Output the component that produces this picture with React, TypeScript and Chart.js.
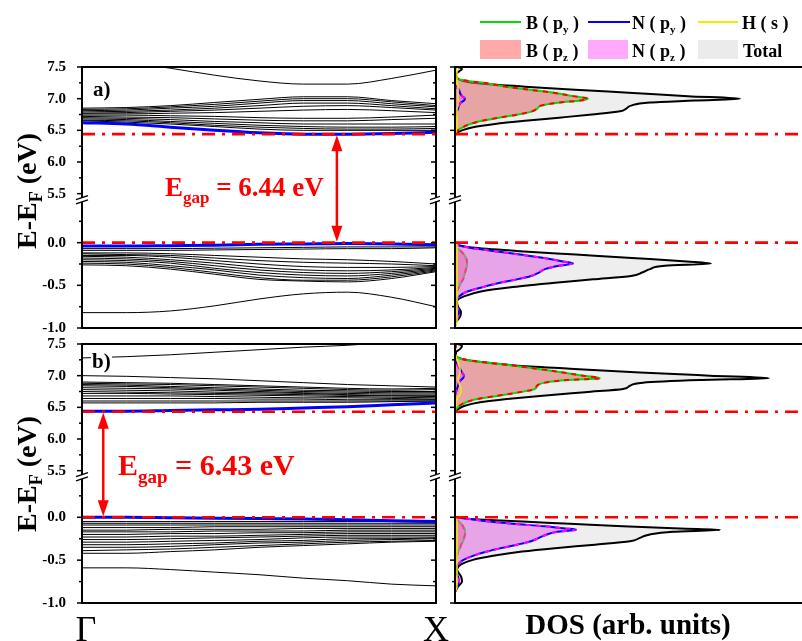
import React, { useEffect, useRef } from "react";
import { Chart, registerables } from "chart.js";
Chart.register(...registerables);

const FONT = "'Liberation Serif','Times New Roman',serif";

// ---------- axes ----------
const TICKS_TOP = [5.5, 6.0, 6.5, 7.0, 7.5];
const MINOR_TOP = [5.75, 6.25, 6.75, 7.25];
const TICKS_BOT = [-1.0, -0.5, 0.0];
const MINOR_BOT = [-0.75, -0.25, 0.25];
const K_PATH = [0, 0.125, 0.25, 0.375, 0.5, 0.625, 0.75, 0.875, 1];
const GAP_A = 6.44;
const GAP_B = 6.43;
const DOS_MAX = 347;

// ---------- panel a) bands ----------
const A_CB_BLACK = [
  [7.65, 7.58, 7.48, 7.37, 7.28, 7.23, 7.23, 7.32, 7.45],
  [6.85, 6.86, 6.89, 6.94, 6.99, 7.03, 7.03, 6.97, 6.92],
  [6.83, 6.84, 6.87, 6.91, 6.96, 7.0, 7.0, 6.95, 6.89],
  [6.81, 6.82, 6.85, 6.88, 6.93, 6.97, 6.97, 6.92, 6.87],
  [6.79, 6.8, 6.82, 6.85, 6.89, 6.93, 6.93, 6.89, 6.84],
  [6.77, 6.78, 6.8, 6.82, 6.85, 6.88, 6.89, 6.86, 6.82],
  [6.76, 6.76, 6.77, 6.78, 6.8, 6.82, 6.83, 6.81, 6.78],
  [6.74, 6.74, 6.73, 6.72, 6.7, 6.69, 6.69, 6.71, 6.74],
  [6.72, 6.71, 6.7, 6.68, 6.66, 6.65, 6.65, 6.67, 6.69],
  [6.7, 6.69, 6.67, 6.64, 6.62, 6.6, 6.6, 6.6, 6.6],
  [6.68, 6.67, 6.64, 6.61, 6.58, 6.56, 6.55, 6.55, 6.56],
  [6.66, 6.65, 6.62, 6.58, 6.55, 6.53, 6.52, 6.52, 6.53],
  [6.65, 6.63, 6.6, 6.56, 6.52, 6.5, 6.5, 6.5, 6.5],
];
const A_CB_BLUE = [6.62, 6.6, 6.55, 6.5, 6.46, 6.44, 6.44, 6.45, 6.47];
const A_VB_BLACK = [
  [-0.07, -0.07, -0.07, -0.065, -0.06, -0.055, -0.05, -0.05, -0.05],
  [-0.09, -0.09, -0.09, -0.085, -0.08, -0.075, -0.07, -0.07, -0.06],
  [-0.12, -0.12, -0.13, -0.15, -0.17, -0.19, -0.2, -0.22, -0.25],
  [-0.13, -0.14, -0.15, -0.18, -0.21, -0.23, -0.24, -0.25, -0.27],
  [-0.15, -0.15, -0.17, -0.21, -0.25, -0.28, -0.29, -0.29, -0.28],
  [-0.16, -0.17, -0.2, -0.24, -0.29, -0.32, -0.33, -0.32, -0.29],
  [-0.18, -0.19, -0.22, -0.27, -0.32, -0.35, -0.36, -0.34, -0.3],
  [-0.2, -0.21, -0.24, -0.3, -0.35, -0.38, -0.39, -0.36, -0.31],
  [-0.22, -0.23, -0.27, -0.32, -0.38, -0.41, -0.42, -0.38, -0.32],
  [-0.24, -0.25, -0.29, -0.35, -0.41, -0.44, -0.44, -0.4, -0.33],
  [-0.26, -0.27, -0.31, -0.37, -0.43, -0.45, -0.46, -0.42, -0.34],
  [-0.82, -0.82, -0.8, -0.74, -0.66, -0.6, -0.58, -0.64, -0.75],
];
const A_VB_BLUE = [-0.04, -0.04, -0.035, -0.03, -0.02, -0.015, -0.01, -0.015, -0.025];

// ---------- panel b) bands ----------
const B_CB_BLACK = [
  [7.28, 7.3, 7.33, 7.37, 7.41, 7.45, 7.48, 7.53, 7.58],
  [7.0, 6.99, 6.97, 6.95, 6.92, 6.89, 6.86, 6.84, 6.82],
  [6.9, 6.89, 6.88, 6.86, 6.84, 6.82, 6.8, 6.79, 6.8],
  [6.88, 6.87, 6.86, 6.84, 6.82, 6.8, 6.78, 6.77, 6.78],
  [6.86, 6.85, 6.83, 6.81, 6.79, 6.77, 6.76, 6.75, 6.75],
  [6.84, 6.83, 6.81, 6.79, 6.77, 6.75, 6.74, 6.73, 6.73],
  [6.81, 6.8, 6.79, 6.77, 6.75, 6.73, 6.72, 6.71, 6.71],
  [6.78, 6.77, 6.76, 6.74, 6.73, 6.72, 6.7, 6.69, 6.69],
  [6.75, 6.74, 6.73, 6.72, 6.71, 6.7, 6.69, 6.68, 6.67],
  [6.72, 6.72, 6.71, 6.7, 6.69, 6.68, 6.67, 6.66, 6.65],
  [6.68, 6.68, 6.68, 6.67, 6.66, 6.65, 6.65, 6.64, 6.63],
  [6.64, 6.64, 6.64, 6.64, 6.63, 6.63, 6.62, 6.62, 6.62],
  [6.6, 6.6, 6.6, 6.6, 6.6, 6.6, 6.6, 6.6, 6.6],
  [6.57, 6.57, 6.57, 6.57, 6.58, 6.58, 6.58, 6.59, 6.6],
];
const B_CB_BLUE = [6.44, 6.44, 6.45, 6.46, 6.47, 6.49, 6.51, 6.54, 6.57];
const B_VB_BLACK = [
  [-0.05, -0.05, -0.05, -0.05, -0.05, -0.05, -0.05, -0.05, -0.06],
  [-0.07, -0.07, -0.07, -0.07, -0.07, -0.07, -0.07, -0.07, -0.07],
  [-0.09, -0.09, -0.09, -0.09, -0.09, -0.09, -0.09, -0.09, -0.09],
  [-0.12, -0.12, -0.12, -0.11, -0.11, -0.11, -0.11, -0.11, -0.11],
  [-0.15, -0.15, -0.14, -0.14, -0.14, -0.13, -0.13, -0.13, -0.13],
  [-0.17, -0.17, -0.17, -0.16, -0.16, -0.16, -0.15, -0.15, -0.15],
  [-0.2, -0.2, -0.19, -0.19, -0.18, -0.18, -0.17, -0.17, -0.17],
  [-0.23, -0.23, -0.22, -0.22, -0.21, -0.2, -0.19, -0.19, -0.19],
  [-0.26, -0.26, -0.25, -0.24, -0.23, -0.22, -0.21, -0.21, -0.21],
  [-0.29, -0.29, -0.28, -0.27, -0.26, -0.24, -0.23, -0.23, -0.23],
  [-0.32, -0.32, -0.31, -0.3, -0.28, -0.27, -0.25, -0.25, -0.24],
  [-0.35, -0.35, -0.34, -0.32, -0.3, -0.29, -0.27, -0.26, -0.25],
  [-0.39, -0.38, -0.37, -0.35, -0.33, -0.31, -0.29, -0.28, -0.27],
  [-0.42, -0.42, -0.4, -0.38, -0.35, -0.33, -0.31, -0.29, -0.28],
  [-0.59, -0.59, -0.61, -0.64, -0.67, -0.71, -0.74, -0.78, -0.8],
];
const B_VB_BLUE = [0.0, 0.0, -0.005, -0.01, -0.015, -0.02, -0.03, -0.04, -0.05];

// ---------- panel a) DOS ----------
const A_DOS_E_TOP = [7.5, 7.47, 7.43, 7.38, 7.33, 7.28, 7.24, 7.19, 7.14, 7.09, 7.04, 7.0, 6.97, 6.94, 6.89, 6.84, 6.8, 6.75, 6.7, 6.65, 6.6, 6.55, 6.5, 6.46, 6.42];
const A_TOTAL_TOP = [3, 7, 4, 1, 2, 8, 25, 70, 120, 178, 233, 285, 240, 195, 176, 171, 165, 137, 104, 70, 40, 18, 7, 2, 0];
const A_BPZ_TOP = [1, 1, 0, 0, 0, 13, 33, 50, 75, 100, 118, 133, 125, 105, 86, 82, 77, 63, 44, 27, 15, 8, 3, 1, 0];
const A_NPZ_TOP = [0, 0, 0, 0, 0, 0, 0, 1, 4, 5, 7, 10, 9, 6, 4, 3, 2, 1, 0, 0, 0, 0, 0, 0, 0];
const A_HS_TOP = [0, 1, 2, 2, 2, 2, 2, 3, 3, 3, 3, 3, 3, 3, 3, 2, 2, 2, 2, 2, 2, 2, 1, 1, 0];
const A_DOS_E_BOT = [0.0, -0.03, -0.06, -0.1, -0.14, -0.18, -0.22, -0.245, -0.27, -0.31, -0.35, -0.39, -0.43, -0.47, -0.52, -0.57, -0.63, -0.69, -0.75, -0.81, -0.87, -0.93, -0.98];
const A_TOTAL_BOT = [0, 3, 20, 65, 121, 177, 232, 256, 210, 195, 187, 176, 138, 100, 58, 27, 9, 2, 3, 6, 5, 1, 0];
const A_NPZ_BOT = [0, 4, 15, 40, 65, 89, 108, 118, 104, 90, 84, 76, 62, 45, 28, 13, 4, 1, 2, 4, 3, 1, 0];
const A_BPZ_BOT = [0, 0, 2, 6, 9, 11, 12, 12, 12, 11, 10, 9, 8, 6, 4, 2, 1, 0, 0, 0, 0, 0, 0];
const A_HS_BOT = [0, 2, 2, 2, 2, 2, 2, 2, 2, 2, 2, 2, 2, 2, 2, 2, 2, 2, 2, 2, 2, 2, 0];

// ---------- panel b) DOS ----------
const B_DOS_E_TOP = [7.5, 7.47, 7.42, 7.37, 7.32, 7.26, 7.21, 7.16, 7.11, 7.05, 7.0, 6.96, 6.93, 6.89, 6.84, 6.79, 6.74, 6.68, 6.63, 6.58, 6.52, 6.47, 6.42];
const B_TOTAL_TOP = [3, 7, 5, 1, 1, 8, 28, 60, 115, 185, 255, 314, 245, 188, 175, 168, 130, 85, 52, 25, 9, 3, 0];
const B_BPZ_TOP = [1, 1, 0, 0, 0, 8, 30, 58, 82, 108, 128, 145, 112, 90, 82, 80, 65, 42, 22, 11, 4, 1, 0];
const B_NPZ_TOP = [0, 0, 0, 0, 0, 0, 1, 3, 5, 7, 9, 8, 6, 4, 3, 2, 1, 0, 0, 0, 0, 0, 0];
const B_HS_TOP = [0, 0, 0, 0, 1, 2, 3, 4, 5, 5, 4, 3, 3, 4, 5, 6, 6, 4, 2, 1, 1, 0, 0];
const B_DOS_E_BOT = [0.0, -0.02, -0.05, -0.075, -0.105, -0.13, -0.145, -0.17, -0.2, -0.24, -0.28, -0.32, -0.36, -0.4, -0.45, -0.5, -0.55, -0.61, -0.69, -0.75, -0.81, -0.87];
const B_TOTAL_BOT = [0, 15, 68, 115, 168, 225, 265, 218, 195, 185, 175, 140, 100, 67, 38, 17, 6, 2, 6, 7, 3, 0];
const B_NPZ_BOT = [1, 15, 35, 58, 90, 110, 121, 102, 92, 84, 76, 62, 46, 32, 18, 8, 3, 0, 3, 4, 2, 0];
const B_BPZ_BOT = [0, 1, 4, 6, 8, 9, 10, 10, 10, 9, 8, 6, 5, 3, 2, 1, 0, 0, 0, 0, 0, 0];
const B_HS_BOT = [0, 2, 2, 2, 2, 2, 2, 2, 2, 2, 2, 2, 2, 2, 2, 2, 2, 2, 2, 2, 2, 0];

// ---------- colours ----------
const C_BPY = "#00dd00";
const C_NPY = "#0000ff";
const C_HS = "#eeee00";
const C_RED = "#ff0000";
const FILL_TOTAL = "#eeeeee";
const FILL_BPZ = "rgba(226,110,110,0.58)";
const FILL_NPZ = "rgba(226,110,226,0.58)";

const decorPlugin = {
  id: "decor",
  afterDatasetsDraw(chart: any, _a: any, o: any) {
    const { ctx, chartArea: ca, scales } = chart;
    const yT = scales.yTop, yB = scales.yBot, xs = scales.x;
    const L = ca.left, R = ca.right, T = ca.top, B = ca.bottom;
    const brk = yT.bottom;
    ctx.save();
    const seg = (x1: number, y1: number, x2: number, y2: number, w: number) => {
      ctx.lineWidth = w;
      ctx.beginPath();
      ctx.moveTo(x1, y1);
      ctx.lineTo(x2, y2);
      ctx.stroke();
    };
    ctx.strokeStyle = "#000";
    seg(L - 1, T, R + 1, T, 2);
    seg(L - 1, B, R + 1, B, 2);
    const vert = (xx: number) => {
      seg(xx, T, xx, brk - 2.3, 2);
      seg(xx, brk + 1.8, xx, B, 2);
      seg(xx - 6, brk - 0.3, xx + 6, brk - 4.3, 1.4);
      seg(xx - 6, brk + 3.8, xx + 6, brk - 0.2, 1.4);
    };
    vert(L);
    if (o.right) vert(R);
    const ticks = (sc: any, vals: number[], len: number) => {
      vals.forEach((v) => {
        const y = sc.getPixelForValue(v);
        seg(L - len, y, L, y, 1.5);
        if (o.right) seg(R - len, y, R, y, 1.5);
      });
    };
    ticks(yT, TICKS_TOP, 5);
    ticks(yT, MINOR_TOP, 3);
    ticks(yB, TICKS_BOT, 5);
    ticks(yB, MINOR_BOT, 3);
    if (o.arrow) {
      const ax = xs.getPixelForValue(o.arrow.k);
      const y1 = yT.getPixelForValue(o.arrow.from);
      const y2 = yB.getPixelForValue(o.arrow.to);
      ctx.strokeStyle = C_RED;
      ctx.fillStyle = C_RED;
      seg(ax, y1 + 12, ax, y2 - 12, 2.5);
      ctx.beginPath();
      ctx.moveTo(ax, y1 + 1);
      ctx.lineTo(ax - 5.5, y1 + 17);
      ctx.lineTo(ax + 5.5, y1 + 17);
      ctx.closePath();
      ctx.fill();
      ctx.beginPath();
      ctx.moveTo(ax, y2 - 1);
      ctx.lineTo(ax - 5.5, y2 - 17);
      ctx.lineTo(ax + 5.5, y2 - 17);
      ctx.closePath();
      ctx.fill();
    }
    ctx.restore();
  },
};

function yScales(botMax: number, wTop: number, wBot: number, labels: boolean, width: number) {
  const common = (ticks: number[]) => ({
    type: "linear",
    position: "left",
    stack: "e",
    grid: { display: false },
    border: { display: false },
    ticks: {
      display: labels,
      autoSkip: false,
      color: "#000",
      padding: 8,
      font: { family: FONT, size: 15, weight: "bold" },
      callback: (v: any) => Number(v).toFixed(1),
    },
    afterBuildTicks: (s: any) => {
      s.ticks = ticks.map((v) => ({ value: v }));
    },
    afterFit: (s: any) => {
      s.width = width;
      s.paddingTop = 0;
      s.paddingBottom = 0;
    },
  });
  // left-side stacked boxes are laid out in reverse order: bottom segment first
  return {
    yBot: { ...common(TICKS_BOT), min: -1.0, max: botMax, stackWeight: wBot },
    yTop: { ...common(TICKS_TOP), min: 5.4, max: 7.5, stackWeight: wTop },
  };
}

function finish(datasets: any[]) {
  datasets.forEach((d, i) => {
    d.order = -i;
    d.pointRadius = 0;
    if (d.fill === undefined) d.fill = false;
  });
  return datasets;
}

function bandConfig(cbBlack: number[][], cbBlue: number[], vbBlack: number[][], vbBlue: number[], gap: number, arrowK: number, botMax: number, wTop: number, wBot: number, padB: number) {
  const pts = (arr: number[]) => K_PATH.map((k, i) => ({ x: k, y: arr[i] }));
  const ds: any[] = [];
  const curve = { cubicInterpolationMode: "monotone" };
  cbBlack.forEach((b) => ds.push({ data: pts(b), yAxisID: "yTop", borderColor: "#000", borderWidth: 1, ...curve }));
  vbBlack.forEach((b) => ds.push({ data: pts(b), yAxisID: "yBot", borderColor: "#000", borderWidth: 1, ...curve }));
  ds.push({ data: pts(cbBlue), yAxisID: "yTop", borderColor: C_NPY, borderWidth: 3, ...curve });
  ds.push({ data: pts(vbBlue), yAxisID: "yBot", borderColor: C_NPY, borderWidth: 3, ...curve });
  const ref = { borderColor: C_RED, borderWidth: 2.6, borderDash: [13, 7, 3, 7], tension: 0 };
  ds.push({ data: [{ x: 0, y: gap }, { x: 1, y: gap }], yAxisID: "yTop", ...ref });
  ds.push({ data: [{ x: 0, y: 0 }, { x: 1, y: 0 }], yAxisID: "yBot", ...ref });
  return {
    type: "line",
    data: { datasets: finish(ds) },
    options: {
      animation: false,
      responsive: false,
      events: [],
      layout: { padding: { top: 12, bottom: padB, left: 0, right: 4 } },
      plugins: {
        legend: { display: false },
        tooltip: { enabled: false },
        decor: { right: true, arrow: { k: arrowK, from: gap, to: 0 } },
      },
      scales: {
        x: { type: "linear", min: 0, max: 1, display: false },
        ...yScales(botMax, wTop, wBot, true, 82),
      },
    },
    plugins: [decorPlugin],
  };
}

function dosConfig(eTop: number[], totTop: number[], bTop: number[], nTop: number[], hTop: number[], eBot: number[], totBot: number[], bBot: number[], nBot: number[], hBot: number[], gap: number, botMax: number, wTop: number, wBot: number, padB: number) {
  const pts = (E: number[], v: number[]) => E.map((e, i) => ({ x: v[i], y: e }));
  const curve = { cubicInterpolationMode: "monotone" };
  const ds: any[] = [];
  ds.push({ data: pts(eTop, totTop), yAxisID: "yTop", fill: "origin", backgroundColor: FILL_TOTAL, borderColor: "#000", borderWidth: 2, ...curve });
  ds.push({ data: pts(eBot, totBot), yAxisID: "yBot", fill: "origin", backgroundColor: FILL_TOTAL, borderColor: "#000", borderWidth: 2, ...curve });
  const parts = (E: number[], b: number[], n: number[], h: number[], ax: string) => {
    ds.push({ data: pts(E, b), yAxisID: ax, fill: "origin", backgroundColor: FILL_BPZ, borderColor: C_BPY, borderWidth: 2, ...curve });
    ds.push({ data: pts(E, b), yAxisID: ax, borderColor: C_RED, borderWidth: 2, borderDash: [5, 5], ...curve });
    ds.push({ data: pts(E, n), yAxisID: ax, fill: "origin", backgroundColor: FILL_NPZ, borderColor: C_NPY, borderWidth: 2, ...curve });
    ds.push({ data: pts(E, n), yAxisID: ax, borderColor: "#ff00ff", borderWidth: 2, borderDash: [5, 5], ...curve });
    ds.push({ data: pts(E, h), yAxisID: ax, borderColor: C_HS, borderWidth: 1.5, ...curve });
  };
  parts(eTop, bTop, nTop, hTop, "yTop");
  parts(eBot, bBot, nBot, hBot, "yBot");
  const ref = { borderColor: C_RED, borderWidth: 2.6, borderDash: [13, 7, 3, 7], tension: 0 };
  ds.push({ data: [{ x: 0, y: gap }, { x: DOS_MAX, y: gap }], yAxisID: "yTop", ...ref });
  ds.push({ data: [{ x: 0, y: 0 }, { x: DOS_MAX, y: 0 }], yAxisID: "yBot", ...ref });
  return {
    type: "line",
    data: { datasets: finish(ds) },
    options: {
      animation: false,
      responsive: false,
      events: [],
      indexAxis: "y",
      layout: { padding: { top: 12, bottom: padB, left: 0, right: 0 } },
      plugins: {
        legend: { display: false },
        tooltip: { enabled: false },
        decor: { right: false, arrow: null },
      },
      scales: {
        x: { type: "linear", min: 0, max: DOS_MAX, display: false },
        ...yScales(botMax, wTop, wBot, false, 15),
      },
    },
    plugins: [decorPlugin],
  };
}

function ChartBox({ left, top, width, height, make }: any) {
  const ref = useRef<HTMLCanvasElement>(null);
  useEffect(() => {
    const chart = new Chart(ref.current as HTMLCanvasElement, make());
    return () => chart.destroy();
  }, []);
  return (
    <canvas
      ref={ref}
      width={width}
      height={height}
      style={{ position: "absolute", left, top, width, height }}
    />
  );
}

const txt = (extra: any) => ({
  position: "absolute" as const,
  fontFamily: FONT,
  whiteSpace: "nowrap" as const,
  color: "#000",
  ...extra,
});

function Sub({ children, size, drop }: any) {
  return (
    <span style={{ fontSize: size, position: "relative", top: drop }}>{children}</span>
  );
}

function YTitle({ cy }: any) {
  return (
    <div
      style={txt({
        left: 28,
        top: cy,
        fontSize: 28,
        fontWeight: "bold",
        lineHeight: "28px",
        transform: "translate(-50%,-50%) rotate(-90deg)",
      })}
    >
      E-E<Sub size={18} drop={6}>F</Sub> (eV)
    </div>
  );
}

function LegendText({ x, base, children }: any) {
  return (
    <div style={txt({ left: x, top: base - 15, fontSize: 18, lineHeight: "18px", fontWeight: "bold" })}>
      {children}
    </div>
  );
}

export default function App() {
  return (
    <div
      style={{
        position: "fixed",
        left: 0,
        top: 0,
        width: 802,
        height: 641,
        overflow: "hidden",
        background: "#fff",
      }}
    >
      <ChartBox left={0} top={55} width={440} height={285}
        make={() => bandConfig(A_CB_BLACK, A_CB_BLUE, A_VB_BLACK, A_VB_BLUE, GAP_A, 0.72, 0.5, 133, 128, 12)} />
      <ChartBox left={440} top={55} width={362} height={285}
        make={() => dosConfig(A_DOS_E_TOP, A_TOTAL_TOP, A_BPZ_TOP, A_NPZ_TOP, A_HS_TOP, A_DOS_E_BOT, A_TOTAL_BOT, A_BPZ_BOT, A_NPZ_BOT, A_HS_BOT, GAP_A, 0.5, 133, 128, 12)} />
      <ChartBox left={0} top={332} width={440} height={285}
        make={() => bandConfig(B_CB_BLACK, B_CB_BLUE, B_VB_BLACK, B_VB_BLUE, GAP_B, 0.06, 0.47, 133, 126, 14)} />
      <ChartBox left={440} top={332} width={362} height={285}
        make={() => dosConfig(B_DOS_E_TOP, B_TOTAL_TOP, B_BPZ_TOP, B_NPZ_TOP, B_HS_TOP, B_DOS_E_BOT, B_TOTAL_BOT, B_BPZ_BOT, B_NPZ_BOT, B_HS_BOT, GAP_B, 0.47, 133, 126, 14)} />

      {/* legend */}
      <div style={{ position: "absolute", left: 480, top: 21, width: 41, height: 2, background: C_BPY }} />
      <LegendText x={526} base={29}>B ( p<Sub size={11} drop={4}>y</Sub> )</LegendText>
      <div style={{ position: "absolute", left: 588, top: 21, width: 42, height: 2, background: C_NPY }} />
      <LegendText x={632} base={29}>N ( p<Sub size={11} drop={4}>y</Sub> )</LegendText>
      <div style={{ position: "absolute", left: 698, top: 21, width: 40, height: 2, background: C_HS }} />
      <LegendText x={742} base={29}>H ( s )</LegendText>
      <div style={{ position: "absolute", left: 480, top: 40, width: 41, height: 19, background: "#ffaaaa" }} />
      <LegendText x={526} base={57}>B ( p<Sub size={11} drop={4}>z</Sub> )</LegendText>
      <div style={{ position: "absolute", left: 588, top: 40, width: 40, height: 19, background: "#ffaaff" }} />
      <LegendText x={632} base={57}>N ( p<Sub size={11} drop={4}>z</Sub> )</LegendText>
      <div style={{ position: "absolute", left: 698, top: 40, width: 40, height: 19, background: "#ebebeb" }} />
      <LegendText x={743} base={57}>Total</LegendText>

      {/* panel labels */}
      <div style={txt({ left: 93, top: 79, fontSize: 21, lineHeight: "21px", fontWeight: "bold" })}>a)</div>
      <div style={txt({ left: 91, top: 351, fontSize: 21, lineHeight: "21px", fontWeight: "bold", background: "#fff", padding: "0 1px" })}>b)</div>

      {/* gap labels */}
      <div style={txt({ left: 165, top: 174, fontSize: 27, lineHeight: "27px", fontWeight: "bold", color: C_RED })}>
        E<Sub size={17} drop={7}>gap</Sub> = 6.44 eV
      </div>
      <div style={txt({ left: 118, top: 450, fontSize: 30, lineHeight: "30px", fontWeight: "bold", color: C_RED })}>
        E<Sub size={19} drop={8}>gap</Sub> = 6.43 eV
      </div>

      <YTitle cy={191} />
      <YTitle cy={474} />

      {/* x labels */}
      <div style={txt({ left: 86, top: 611, fontSize: 36, lineHeight: "36px", transform: "translateX(-50%)" })}>Γ</div>
      <div style={txt({ left: 436, top: 611, fontSize: 36, lineHeight: "36px", transform: "translateX(-50%)" })}>X</div>
      <div style={txt({ left: 628, top: 610, fontSize: 29, lineHeight: "29px", fontWeight: "bold", transform: "translateX(-50%)" })}>DOS (arb. units)</div>
    </div>
  );
}
